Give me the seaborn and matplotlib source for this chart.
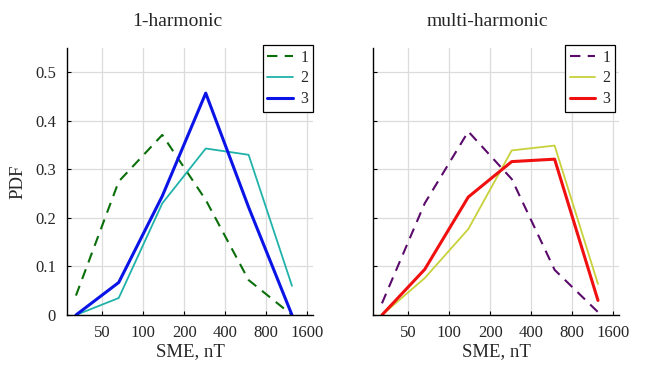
import matplotlib
matplotlib.use("Agg")
import matplotlib.pyplot as plt
import seaborn as sns
import numpy as np
import pandas as pd

sme = [32, 66, 138, 288, 595, 1240]
xticks = [50, 100, 200, 400, 800, 1600]
yticks = [0, 0.1, 0.2, 0.3, 0.4, 0.5]

one_h_1 = [0.04, 0.275, 0.371, 0.237, 0.072, 0.0]
one_h_2 = [0.0, 0.035, 0.23, 0.343, 0.33, 0.06]
one_h_3 = [0.0, 0.067, 0.245, 0.457, 0.222, 0.0]

multi_h_1 = [0.024, 0.23, 0.378, 0.28, 0.093, 0.006]
multi_h_2 = [0.0, 0.076, 0.177, 0.339, 0.349, 0.064]
multi_h_3 = [0.0, 0.094, 0.243, 0.316, 0.321, 0.03]

titles = ["1-harmonic", "multi-harmonic"]
labels = ["1", "2", "3"]

sns.set_theme(style="whitegrid")
plt.rcParams['font.family'] = ['Liberation Serif', 'DejaVu Serif']

W, H = 647, 369
fig = plt.figure(figsize=(W / 100, H / 100), dpi=100)
ax1 = fig.add_axes([67 / W, 1 - 315 / H, 246 / W, 267 / H])
ax2 = fig.add_axes([373 / W, 1 - 315 / H, 246 / W, 267 / H])

styles_left = [
    dict(color="#0a6e0a", lw=1.5, dashes=(5, 3.5)),
    dict(color="#20b2aa", lw=1.3, dashes=None),
    dict(color="#0a14e6", lw=2.2, dashes=None),
]
styles_right = [
    dict(color="#5a0a6a", lw=1.5, dashes=(5, 3.5)),
    dict(color="#c8d13a", lw=1.3, dashes=None),
    dict(color="#f01010", lw=2.2, dashes=None),
]

for ax, series, styles in [
    (ax1, [one_h_1, one_h_2, one_h_3], styles_left),
    (ax2, [multi_h_1, multi_h_2, multi_h_3], styles_right),
]:
    for vals, st, lab in zip(series, styles, labels):
        df = pd.DataFrame({"SME": sme, "PDF": vals})
        sns.lineplot(data=df, x="SME", y="PDF", ax=ax, color=st["color"],
                     lw=st["lw"], label=lab, legend=False)
        l = ax.lines[-1]
        if st["dashes"]:
            l.set_dashes(st["dashes"])
    ax.set_xscale("log", base=2)
    ax.set_xlim(27.5, 1770)
    ax.set_ylim(0, 0.55)
    ax.set_xticks(xticks)
    ax.set_xticklabels([str(t) for t in xticks])
    ax.minorticks_off()
    ax.set_yticks(yticks)
    ax.grid(True, color="#dcdcdc", lw=0.9)
    ax.set_facecolor("white")
    for s in ["top", "right"]:
        ax.spines[s].set_visible(False)
    for s in ["left", "bottom"]:
        ax.spines[s].set_visible(True)
        ax.spines[s].set_color("black")
        ax.spines[s].set_linewidth(1.0)
    ax.tick_params(direction="in", length=3, width=0.8, color="black",
                   labelsize=12, bottom=True, left=True)
    ax.tick_params(axis="x", pad=7)
    ax.tick_params(axis="y", pad=8)
    ax.set_xlabel("SME, nT", fontsize=13.5, labelpad=2)
    leg = ax.legend(loc="upper right", bbox_to_anchor=(1.0, 1.012), borderaxespad=0,
                    fontsize=11.5, frameon=True, fancybox=False, handlelength=1.6,
                    handletextpad=0.45, labelspacing=0.3, borderpad=0.3)
    leg.get_frame().set_edgecolor("black")
    leg.get_frame().set_linewidth(0.9)
    leg.get_frame().set_alpha(1)

ax2.get_legend().set_bbox_to_anchor((0.985, 1.012))

fig.text(177 / W, 1 - 21 / H, titles[0], ha="center", va="center", fontsize=14)
fig.text(487 / W, 1 - 21 / H, titles[1], ha="center", va="center", fontsize=14)

ax1.set_ylabel("PDF", fontsize=13.5, labelpad=6)
ax1.set_yticklabels(["0", "0.1", "0.2", "0.3", "0.4", "0.5"])
ax2.set_ylabel("")
ax2.set_yticklabels([])

fig.savefig("out.png", dpi=100)
